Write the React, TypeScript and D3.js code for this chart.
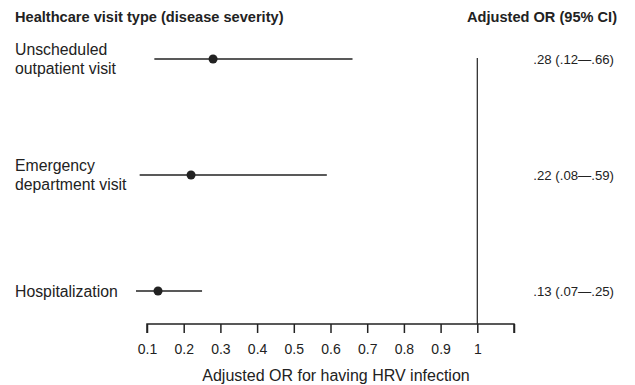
import React, { useEffect, useRef } from 'react';
import * as d3 from 'd3';

// 数据
const categories = ['Unscheduled|outpatient visit', 'Emergency|department visit', 'Hospitalization'];
const estimates = [0.28, 0.22, 0.13];
const lower = [0.12, 0.08, 0.07];
const upper = [0.66, 0.59, 0.25];
const ciLabels = ['.28 (.12\u2014.66)', '.22 (.08\u2014.59)', '.13 (.07\u2014.25)'];
const tickValues = [0.1, 0.2, 0.3, 0.4, 0.5, 0.6, 0.7, 0.8, 0.9, 1, 1.1];

export default function App() {
  const ref = useRef<SVGSVGElement>(null);
  const WIDTH = 635;
  const HEIGHT = 385;
  const FONT = 'Liberation Sans, Arial, Helvetica, sans-serif';
  const INK = '#222';

  function draw() {
    const svg = d3.select(ref.current);
    svg.selectAll('*').remove();

    const x = d3.scaleLinear().domain([0.1, 1.1]).range([147, 514]);
    const y = d3.scalePoint<string>().domain(categories).range([59, 291]);
    const axisY = 324;

    // 表头
    svg.append('text')
      .attr('x', 15).attr('y', 22)
      .attr('font-family', FONT).attr('font-size', 14.6).attr('font-weight', 'bold')
      .attr('fill', INK)
      .text('Healthcare visit type (disease severity)');
    svg.append('text')
      .attr('x', 617).attr('y', 22)
      .attr('text-anchor', 'end')
      .attr('font-family', FONT).attr('font-size', 14.6).attr('font-weight', 'bold')
      .attr('fill', INK)
      .text('Adjusted OR (95% CI)');

    // 参考线 OR = 1
    svg.append('line')
      .attr('x1', x(1)).attr('x2', x(1))
      .attr('y1', 58).attr('y2', axisY)
      .attr('stroke', INK).attr('stroke-width', 1.2);

    const rows = svg.append('g').selectAll('g')
      .data(categories)
      .enter()
      .append('g')
      .attr('transform', d => `translate(0,${y(d)})`);

    // 行标签
    rows.each(function (d) {
      const parts = d.split('|');
      const t = d3.select(this).append('text')
        .attr('font-family', FONT).attr('font-size', 15.8)
        .attr('fill', INK);
      const start = parts.length > 1 ? -4 : 5.5;
      parts.forEach((p, i) => {
        t.append('tspan').attr('x', 15).attr('y', start + i * 18.5).text(p);
      });
    });

    // 置信区间
    rows.append('line')
      .attr('x1', (d, i) => x(lower[i]))
      .attr('x2', (d, i) => x(upper[i]))
      .attr('stroke', INK).attr('stroke-width', 1.5);

    rows.append('circle')
      .attr('cx', (d, i) => x(estimates[i]))
      .attr('r', 4.5)
      .attr('fill', INK);

    rows.append('text')
      .attr('x', 614).attr('y', 4.5)
      .attr('text-anchor', 'end')
      .attr('font-family', FONT).attr('font-size', 13.2)
      .attr('fill', INK)
      .text((d, i) => ciLabels[i]);

    // x 轴
    const axis = d3.axisBottom(x)
      .tickValues(tickValues)
      .tickSize(9)
      .tickPadding(11)
      .tickFormat(d => (+d > 1.05 ? '' : d3.format('~g')(+d)));
    const ga = svg.append('g')
      .attr('transform', `translate(0,${axisY})`)
      .call(axis);
    ga.select('.domain').attr('stroke', INK).attr('stroke-width', 1.5)
      .attr('d', `M${x(0.1)},9V0H${x(1.1)}V9`);
    ga.selectAll('.tick line').attr('stroke', INK).attr('stroke-width', 1.5);
    ga.selectAll('.tick text')
      .attr('font-family', FONT).attr('font-size', 14).attr('fill', INK);

    svg.append('text')
      .attr('x', 336).attr('y', 381)
      .attr('text-anchor', 'middle')
      .attr('font-family', FONT).attr('font-size', 16)
      .attr('fill', INK)
      .text('Adjusted OR for having HRV infection');
  }

  useEffect(() => {
    draw();
  }, []);

  return (
    <svg ref={ref} width={WIDTH} height={HEIGHT}
      style={{ position: 'absolute', left: 0, top: 0, background: '#fff' }} />
  );
}
